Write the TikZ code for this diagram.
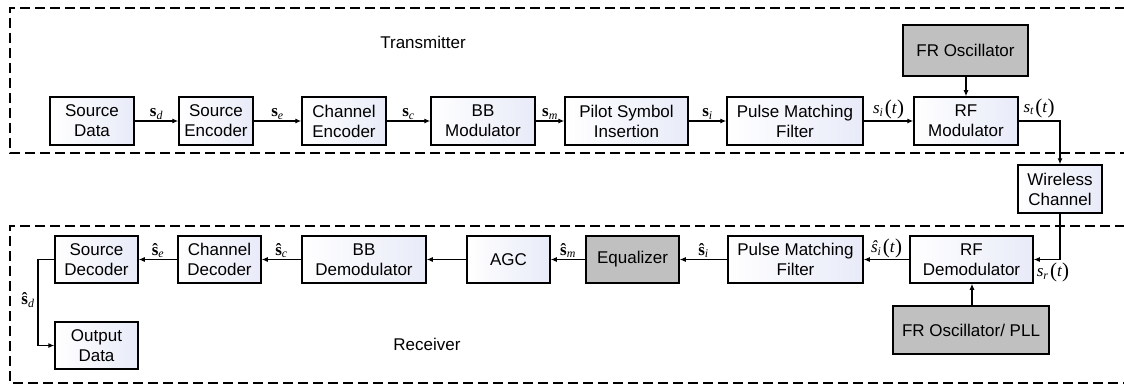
\documentclass[tikz,border=0pt]{standalone}
\usepackage{fontspec}
\setmainfont{Liberation Sans}
\newfontfamily\tms{Liberation Serif}
\usetikzlibrary{arrows.meta}
\definecolor{boxfillA}{RGB}{255,255,255}
\definecolor{boxfillB}{RGB}{232,235,248}
\definecolor{grayfill}{RGB}{192,192,192}
\newcommand{\bsv}[1]{{\tms\bfseries s}\textsubscript{\tms\itshape #1}}
\newcommand{\hbsv}[1]{{\tms\bfseries\^{s}}\textsubscript{\tms\itshape #1}}
\newcommand{\bigpar}[1]{\raisebox{-1pt}{\fontsize{21}{21}\selectfont #1}}
\newcommand{\sigt}[2]{{\tms\itshape #1}\textsubscript{\tms\itshape #2}{\tms\kern1.5pt\bigpar{(}\textit{t}\bigpar{)}}}
\begin{document}
\begin{tikzpicture}[x=1pt,y=-1pt,
  font=\fontsize{17}{20}\selectfont,
  blk/.style={draw, line width=1.5pt, left color=boxfillA, right color=boxfillB, inner sep=0pt, align=center},
  gblk/.style={draw, line width=1.5pt, fill=grayfill, inner sep=0pt, align=center},
  conn/.style={line width=1.1pt, -{Latex[length=6pt,width=5pt]}},
  region/.style={line width=1.2pt, dash pattern=on 10pt off 5pt},
  lab/.style={font=\fontsize{17}{20}\selectfont, inner sep=1pt}]
\useasboundingbox (0,0) rectangle (1124,385);
% dashed regions
\draw[region] (1140,8) -- (10,8) -- (10,153) -- (1140,153);
\draw[region] (1140,226) -- (10,226) -- (10,383) -- (1140,383);
\node (txlab) at (423,42) {Transmitter};
\node (rxlab) at (427,344) {Receiver};
% transmitter
\node[blk, minimum width=84pt, minimum height=48pt] (srcdata) at (92,121) {Source\\Data};
\node[blk, minimum width=74pt, minimum height=48pt] (srcenc) at (216,121) {Source\\Encoder};
\node[blk, minimum width=84pt, minimum height=48pt] (chenc) at (344,121) {Channel\\Encoder};
\node[blk, minimum width=104pt, minimum height=48pt] (bbmod) at (483,121) {BB\\Modulator};
\node[blk, minimum width=123pt, minimum height=48pt] (pilot) at (626.5,121) {Pilot Symbol\\Insertion};
\node[blk, minimum width=136pt, minimum height=48pt] (pmf) at (795,121) {Pulse Matching\\Filter};
\node[blk, minimum width=104pt, minimum height=48pt] (rfmod) at (966,121) {RF\\Modulator};
\node[gblk, minimum width=125pt, minimum height=51pt] (frosc) at (965.5,50.5) {FR Oscillator};
\node[blk, minimum width=84pt, minimum height=48pt] (wch) at (1060,189) {Wireless\\Channel};
% receiver
\node[blk, minimum width=83pt, minimum height=47pt] (srcdec) at (96.5,259.5) {Source\\Decoder};
\node[blk, minimum width=83pt, minimum height=47pt] (chdec) at (219.5,259.5) {Channel\\Decoder};
\node[blk, minimum width=124pt, minimum height=47pt] (bbdem) at (364,259.5) {BB\\Demodulator};
\node[blk, minimum width=83pt, minimum height=47pt] (agc) at (508.5,259.5) {AGC};
\node[gblk, minimum width=93pt, minimum height=47pt] (eq) at (632.5,259.5) {Equalizer};
\node[blk, minimum width=135pt, minimum height=47pt] (rpmf) at (795.5,259.5) {Pulse Matching\\Filter};
\node[blk, minimum width=123pt, minimum height=47pt] (rfdem) at (971.5,259.5) {RF\\Demodulator};
\node[gblk, minimum width=156pt, minimum height=48pt] (pll) at (971,330) {FR Oscillator/ PLL};
\node[blk, minimum width=83pt, minimum height=47pt] (outdata) at (96.5,345.5) {Output\\Data};
% transmitter connectors
\draw[conn] (srcdata) -- node[lab, above] {\bsv{d}} (srcenc);
\draw[conn] (srcenc) -- node[lab, above] {\bsv{e}} (chenc);
\draw[conn] (chenc) -- node[lab, above] {\bsv{c}} (bbmod);
\draw[conn] (bbmod) -- node[lab, above] {\bsv{m}} (pilot);
\draw[conn] (pilot) -- node[lab, above] {\bsv{i}} (pmf);
\draw[conn] (pmf) -- node[lab, above] {\sigt{s}{i}} (rfmod);
\draw[conn] (frosc.south -| rfmod.north) -- (rfmod.north);
\coordinate (c1) at (wch.north |- rfmod.east);
\draw[conn] (rfmod.east) -- (c1) -- (wch.north);
\node[lab, anchor=south] (stlab) at (1039,119) {\sigt{s}{t}};
% receiver connectors
\coordinate (c2) at (wch.south |- rfdem.east);
\draw[conn] (wch.south) -- (c2) -- (rfdem.east);
\node[lab, anchor=north] (srlab) at (1053,262) {\sigt{s}{r}};
\draw[conn] (rfdem) -- node[lab, above] {\sigt{\^{s}}{i}} (rpmf);
\draw[conn] (rpmf) -- node[lab, above] {\hbsv{i}} (eq);
\draw[conn] (eq) -- node[lab, above] {\hbsv{m}} (agc);
\draw[conn] (agc) -- (bbdem);
\draw[conn] (bbdem) -- node[lab, above] {\hbsv{c}} (chdec);
\draw[conn] (chdec) -- node[lab, above] {\hbsv{e}} (srcdec);
\coordinate (pllup) at ([xshift=1pt]pll.north);
\draw[conn] (pllup) -- (pllup |- rfdem.south);
\coordinate (c3) at (38,259.5);
\coordinate (c4) at (38,345.5);
\draw[conn] (srcdec.west) -- (c3) -- (c4) -- (outdata.west);
\node[lab] (sdlab) at (28,300) {\hbsv{d}};
\end{tikzpicture}
\end{document}
